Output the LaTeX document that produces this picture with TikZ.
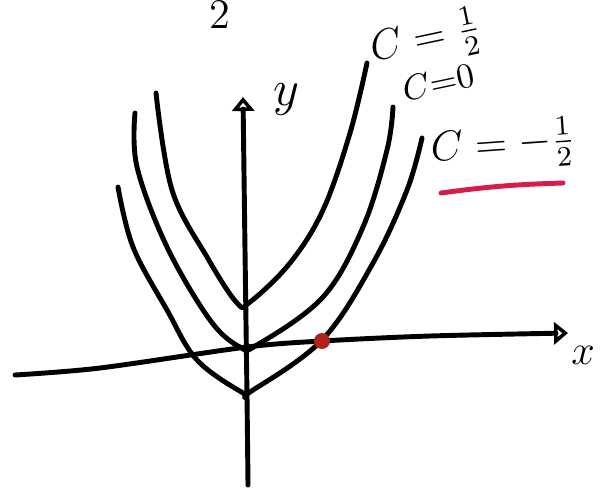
\documentclass[tikz,border=0pt]{standalone}
\usetikzlibrary{arrows.meta}
\definecolor{inkred}{RGB}{214,28,72}
\definecolor{dotred}{RGB}{176,34,26}
\begin{document}
\begin{tikzpicture}[x=0.01cm, y=-0.01cm,
    ink/.style={line width=1.4pt, line cap=round, line join=round},
    axis/.style={ink, -{Triangle[open, length=0.14cm, width=0.22cm, line width=1pt]}},
    level/.style={ink},
    label/.style={inner sep=0pt}
]
    \useasboundingbox (0,0) rectangle (604,488);

    % axes
    \draw[axis] plot[smooth] coordinates {(15,375) (100,368) (247,347) (322,341) (430,336) (568,333)};
    \draw[axis] plot[smooth] coordinates {(248,485) (247,397) (245,250) (243,97)};
    \node[label] (ylab) at (286,100) {\Large$y$};
    \node[label] (xlab) at (583,355) {\large$x$};

    % level curves
    \draw[level] plot[smooth, tension=0.6] coordinates {(156,93) (172,190) (207,257) (237,303) (250,302) (290,263) (323,210) (350,133) (367,63)};
    \draw[level] plot[smooth, tension=0.6] coordinates {(135,113) (137,167) (167,247) (210,320) (240,347) (257,345) (323,297) (363,227) (387,150) (393,107)};
    \draw[level] plot[smooth, tension=0.6] coordinates {(118,187) (133,247) (167,310) (197,360) (243,393) (250,392) (322,340) (373,263) (407,190) (422,138)};

    \node[label, rotate=12] (chalf) at (426,40) {\large$C=\frac{1}{2}$};
    \node[label, rotate=12] (czero) at (438,82) {$C{=}0$};
    \node[label, rotate=4] (cminus) at (503,146) {\large$C = -\frac{1}{2}$};

    \coordinate (ulstart) at (441,193);
    \coordinate (ulend) at (563,183);
    \draw[ink, inkred] (ulstart) to[bend left=3] (ulend);

    \fill[dotred] (322,341) circle[radius=0.08cm];
    \node[label] (page) at (220,14) {\large 2};
\end{tikzpicture}
\end{document}
